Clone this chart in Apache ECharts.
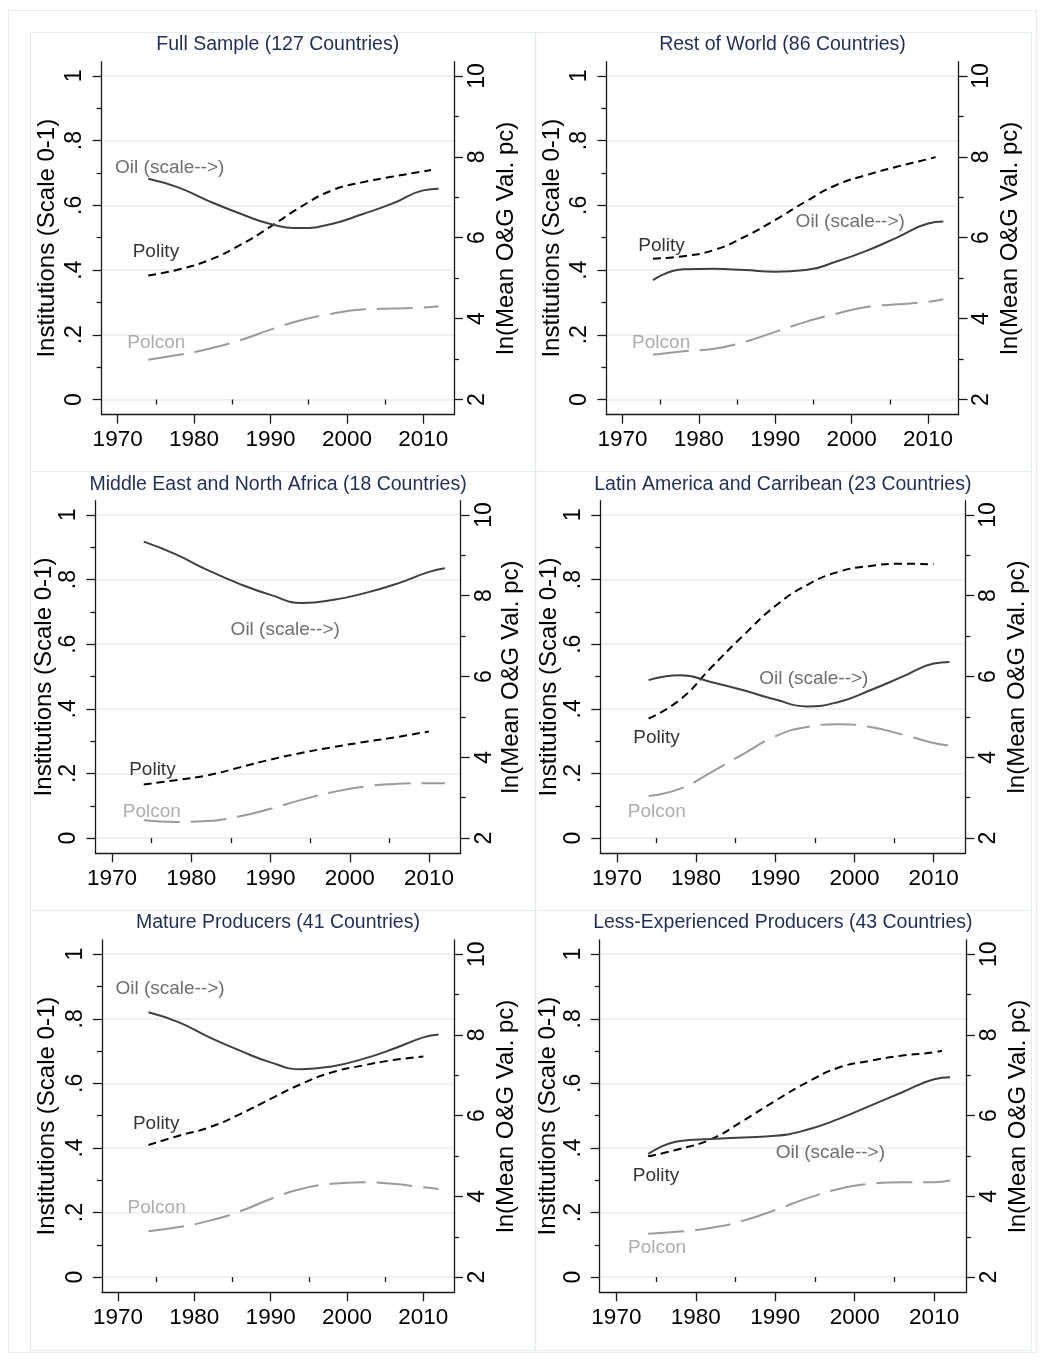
<!DOCTYPE html>
<html><head><meta charset="utf-8">
<script src="https://cdn.jsdelivr.net/npm/echarts@6/dist/echarts.min.js"></script>
<style>html,body{margin:0;padding:0;background:#fff}#c{width:1045px;height:1362px}</style>
</head><body><div id="c"></div>
<script>
// ---------------- DATA ----------------
const panelTitles = [
  'Full Sample (127 Countries)',
  'Rest of World (86 Countries)',
  'Middle East and North Africa (18 Countries)',
  'Latin America and Carribean (23 Countries)',
  'Mature Producers (41 Countries)',
  'Less-Experienced Producers (43 Countries)'
];
const years = [1974, 1978, 1982, 1986, 1990, 1994, 1998, 2002, 2006, 2010, 2012];
const polityYears2011 = [1974, 1978, 1982, 1986, 1990, 1994, 1998, 2002, 2006, 2010, 2011];
const polityYears2010 = [1974, 1978, 1982, 1986, 1990, 1994, 1998, 2002, 2006, 2010];

// ln(Mean O&G Val. pc), right axis
const oilFull   = [7.46, 7.24, 6.90, 6.60, 6.34, 6.24, 6.34, 6.58, 6.85, 7.17, 7.21];
const oilRest   = [4.95, 5.22, 5.23, 5.20, 5.16, 5.20, 5.41, 5.68, 6.01, 6.35, 6.40];
const oilMena   = [9.34, 9.03, 8.64, 8.30, 8.02, 7.82, 7.90, 8.07, 8.30, 8.59, 8.68];
const oilLatam  = [5.91, 6.03, 5.86, 5.66, 5.43, 5.26, 5.37, 5.66, 5.99, 6.32, 6.36];
const oilMature = [8.56, 8.31, 7.94, 7.61, 7.32, 7.15, 7.22, 7.40, 7.65, 7.94, 8.01];
const oilLess   = [5.05, 5.37, 5.42, 5.46, 5.50, 5.65, 5.92, 6.25, 6.58, 6.90, 6.95];

// Polity (scale 0-1), left axis
const polityFull   = [0.383, 0.402, 0.431, 0.477, 0.534, 0.596, 0.646, 0.671, 0.689, 0.705, 0.709];
const polityRest   = [0.435, 0.443, 0.462, 0.503, 0.555, 0.612, 0.663, 0.694, 0.720, 0.743, 0.749];
const polityMena   = [0.166, 0.179, 0.194, 0.218, 0.243, 0.264, 0.282, 0.298, 0.313, 0.330];
const polityLatam  = [0.370, 0.429, 0.530, 0.628, 0.718, 0.783, 0.824, 0.842, 0.849, 0.847];
const polityMature = [0.409, 0.438, 0.464, 0.505, 0.552, 0.598, 0.634, 0.655, 0.672, 0.683];
const polityLess   = [0.374, 0.397, 0.428, 0.485, 0.546, 0.603, 0.649, 0.670, 0.686, 0.696, 0.701];

// Polcon (scale 0-1), left axis
const polconFull   = [0.123, 0.138, 0.157, 0.183, 0.216, 0.245, 0.265, 0.278, 0.281, 0.284, 0.288];
const polconRest   = [0.138, 0.149, 0.157, 0.178, 0.209, 0.240, 0.265, 0.286, 0.294, 0.302, 0.310];
const polconMena   = [0.055, 0.050, 0.053, 0.067, 0.091, 0.119, 0.143, 0.160, 0.168, 0.170, 0.170];
const polconLatam  = [0.130, 0.153, 0.205, 0.261, 0.315, 0.344, 0.352, 0.344, 0.321, 0.294, 0.286];
const polconMature = [0.142, 0.155, 0.175, 0.204, 0.242, 0.273, 0.289, 0.294, 0.289, 0.278, 0.273];
const polconLess   = [0.134, 0.141, 0.153, 0.175, 0.208, 0.244, 0.273, 0.289, 0.294, 0.294, 0.299];

const xTicks = [1970, 1980, 1990, 2000, 2010];
const xMinorTicks = [1975, 1985, 1995, 2005];
const leftTicks = [0, 0.2, 0.4, 0.6, 0.8, 1];
const leftTickLabels = ['0', '.2', '.4', '.6', '.8', '1'];
const leftMinorTicks = [0.1, 0.3, 0.5, 0.7, 0.9];
const rightTicks = [2, 4, 6, 8, 10];
const rightTickLabels = ['2', '4', '6', '8', '10'];
const rightMinorTicks = [3, 5, 7, 9];

const leftAxisName = 'Institutions (Scale 0-1)';
const rightAxisName = 'ln(Mean O&G Val. pc)';
const oilLabel = 'Oil (scale-->)';
const polityLabel = 'Polity';
const polconLabel = 'Polcon';

// annotation anchors (data units: year, left-axis value)
const oilLabelAt    = [[1969.6, 0.717], [1992.6, 0.548], [1984.9, 0.644], [1987.9, 0.494], [1969.6, 0.894], [1990.0, 0.384]];
const polityLabelAt = [[1971.9, 0.457], [1972.0, 0.474], [1972.1, 0.210], [1972.0, 0.310], [1971.9, 0.474], [1972.0, 0.314]];
const polconLabelAt = [[1971.2, 0.176], [1971.2, 0.176], [1971.3, 0.081], [1971.3, 0.081], [1971.2, 0.214], [1971.4, 0.090]];

// ---------------- LAYOUT / STYLE ----------------
const FONT = '"Liberation Sans", Arial, Helvetica, sans-serif';
const X_MIN = 1967.9, X_MAX = 2014.0;
const L_MIN = -0.047, L_MAX = 1.044;
const R_MIN = 2 + 8 * L_MIN, R_MAX = 2 + 8 * L_MAX;

const gridBoxes = [
  { left: 101.6, top: 61.7, width: 352.3, height: 353.0 },
  { left: 606.4, top: 61.7, width: 352.2, height: 353.0 },
  { left: 95.4,  top: 500.7, width: 365.3, height: 352.6 },
  { left: 600.3, top: 500.7, width: 365.0, height: 352.6 },
  { left: 101.9, top: 940.0, width: 352.0, height: 352.3 },
  { left: 599.7, top: 940.0, width: 366.2, height: 352.3 }
];
const leftNameGap  = [42, 42, 36, 36, 43, 35.5];
const rightNameGap = [40, 40, 39, 40.5, 40, 40];
const titleY = [45, 45, 485, 485, 923, 923];

const oilSets = [oilFull, oilRest, oilMena, oilLatam, oilMature, oilLess];
const politySets = [polityFull, polityRest, polityMena, polityLatam, polityMature, polityLess];
const polityYearSets = [polityYears2011, polityYears2011, polityYears2010, polityYears2010, polityYears2010, polityYears2011];
const polconSets = [polconFull, polconRest, polconMena, polconLatam, polconMature, polconLess];

const AXIS_COLOR = '#1a1a1a';
const GRID_COLOR = '#e6eef0';
const BORDER_COLOR = '#e3ebed';

function lookup(vals, labels) {
  return function (v) {
    for (let k = 0; k < vals.length; k++) if (Math.abs(vals[k] - v) < 1e-6) return labels[k];
    return '';
  };
}
function zip(xs, ys) { return ys.map((y, k) => [xs[k], y]); }

const grids = [], xAxes = [], yAxes = [], series = [], graphics = [];

// frames
graphics.push({ type: 'rect', silent: true, z: -10, shape: { x: 8.5, y: 10.5, width: 1028, height: 1342 },
  style: { fill: 'none', stroke: BORDER_COLOR, lineWidth: 1.2 } });
const colX = [[30.5, 535.5], [535.5, 1031.5]];
const rowY = [[32.5, 471.5], [471.5, 910.5], [910.5, 1350.5]];
for (let r = 0; r < 3; r++) for (let c = 0; c < 2; c++) {
  graphics.push({ type: 'rect', silent: true, z: -10,
    shape: { x: colX[c][0], y: rowY[r][0], width: colX[c][1] - colX[c][0], height: rowY[r][1] - rowY[r][0] },
    style: { fill: 'none', stroke: BORDER_COLOR, lineWidth: 1.2 } });
}

for (let i = 0; i < 6; i++) {
  const g = gridBoxes[i];
  grids.push({ left: g.left, top: g.top, width: g.width, height: g.height, containLabel: false, outerBoundsMode: 'none', show: false });

  const axisLineStyle = { color: AXIS_COLOR, width: 1.3 };
  // x major
  xAxes.push({
    type: 'value', gridIndex: i, position: 'bottom', min: X_MIN, max: X_MAX,
    axisLine: { show: true, onZero: false, lineStyle: axisLineStyle },
    axisTick: { show: true, length: 9, customValues: xTicks, lineStyle: axisLineStyle },
    axisLabel: { show: true, customValues: xTicks, fontSize: 22.5, fontFamily: FONT, color: '#000', margin: 14,
      formatter: v => String(Math.round(v)) },
    splitLine: { show: false }
  });
  // x minor
  xAxes.push({
    type: 'value', gridIndex: i, position: 'bottom', min: X_MIN, max: X_MAX,
    axisLine: { show: false }, axisLabel: { show: false }, splitLine: { show: false },
    axisTick: { show: true, length: 5, customValues: xMinorTicks, lineStyle: axisLineStyle }
  });
  // left major
  yAxes.push({
    type: 'value', gridIndex: i, position: 'left', min: L_MIN, max: L_MAX,
    name: leftAxisName, nameLocation: 'middle', nameRotate: 90, nameGap: leftNameGap[i],
    nameTextStyle: { fontSize: 24, fontFamily: FONT, color: '#000' },
    axisLine: { show: true, onZero: false, lineStyle: axisLineStyle },
    axisTick: { show: true, length: 9, customValues: leftTicks, lineStyle: axisLineStyle },
    axisLabel: { show: true, customValues: leftTicks, rotate: 90, fontSize: 23, fontFamily: FONT, color: '#000', margin: 15,
      formatter: lookup(leftTicks, leftTickLabels) },
    splitLine: { show: true, lineStyle: { color: GRID_COLOR, width: 1.5 } }
  });
  // left minor
  yAxes.push({
    type: 'value', gridIndex: i, position: 'left', min: L_MIN, max: L_MAX,
    axisLine: { show: false }, axisLabel: { show: false }, splitLine: { show: false },
    axisTick: { show: true, length: 5, customValues: leftMinorTicks, lineStyle: axisLineStyle }
  });
  // right major
  yAxes.push({
    type: 'value', gridIndex: i, position: 'right', min: R_MIN, max: R_MAX,
    name: rightAxisName, nameLocation: 'middle', nameRotate: 90, nameGap: rightNameGap[i],
    nameTextStyle: { fontSize: 24, fontFamily: FONT, color: '#000' },
    axisLine: { show: true, onZero: false, lineStyle: axisLineStyle },
    axisTick: { show: true, length: 9, customValues: rightTicks, lineStyle: axisLineStyle },
    axisLabel: { show: true, customValues: rightTicks, rotate: 90, fontSize: 23, fontFamily: FONT, color: '#000', margin: 12,
      formatter: lookup(rightTicks, rightTickLabels) },
    splitLine: { show: false }
  });
  // right minor
  yAxes.push({
    type: 'value', gridIndex: i, position: 'right', min: R_MIN, max: R_MAX,
    axisLine: { show: false }, axisLabel: { show: false }, splitLine: { show: false },
    axisTick: { show: true, length: 5, customValues: rightMinorTicks, lineStyle: axisLineStyle }
  });

  const xi = 2 * i, yl = 4 * i, yr = 4 * i + 2;
  series.push({
    type: 'line', name: 'Polcon', xAxisIndex: xi, yAxisIndex: yl, data: zip(years, polconSets[i]),
    smooth: 0.5, showSymbol: false, symbol: 'none', z: 3,
    lineStyle: { color: '#9b9b9b', width: 2, type: [36, 11] }
  });
  series.push({
    type: 'line', name: 'Polity', xAxisIndex: xi, yAxisIndex: yl, data: zip(polityYearSets[i], politySets[i]),
    smooth: 0.5, showSymbol: false, symbol: 'none', z: 4,
    lineStyle: { color: '#000', width: 2, type: [8, 5] }
  });
  series.push({
    type: 'line', name: 'Oil', xAxisIndex: xi, yAxisIndex: yr, data: zip(years, oilSets[i]),
    smooth: 0.5, showSymbol: false, symbol: 'none', z: 5,
    lineStyle: { color: '#404040', width: 2 }
  });
  const ann = [[oilLabelAt[i], oilLabel, '#4a4a4a'], [polityLabelAt[i], polityLabel, '#000'], [polconLabelAt[i], polconLabel, '#999999']];
  ann.forEach(a => {
    series.push({
      type: 'scatter', xAxisIndex: xi, yAxisIndex: yl, data: [a[0]], symbolSize: 1, silent: true, z: 6,
      itemStyle: { color: 'rgba(0,0,0,0)' },
      label: { show: true, position: 'right', distance: 0, formatter: a[1], color: a[2], fontSize: 19, fontFamily: FONT }
    });
  });

  graphics.push({ type: 'text', silent: true, x: g.left + g.width / 2, y: titleY[i],
    style: { text: panelTitles[i], fill: '#1e2d5a', font: '19.5px ' + FONT, align: 'center', verticalAlign: 'middle' } });
}

const chart = echarts.init(document.getElementById('c'), null, { renderer: 'canvas' });
chart.setOption({
  animation: false,
  backgroundColor: '#ffffff',
  grid: grids, xAxis: xAxes, yAxis: yAxes, series: series, graphic: graphics
});
</script></body></html>
